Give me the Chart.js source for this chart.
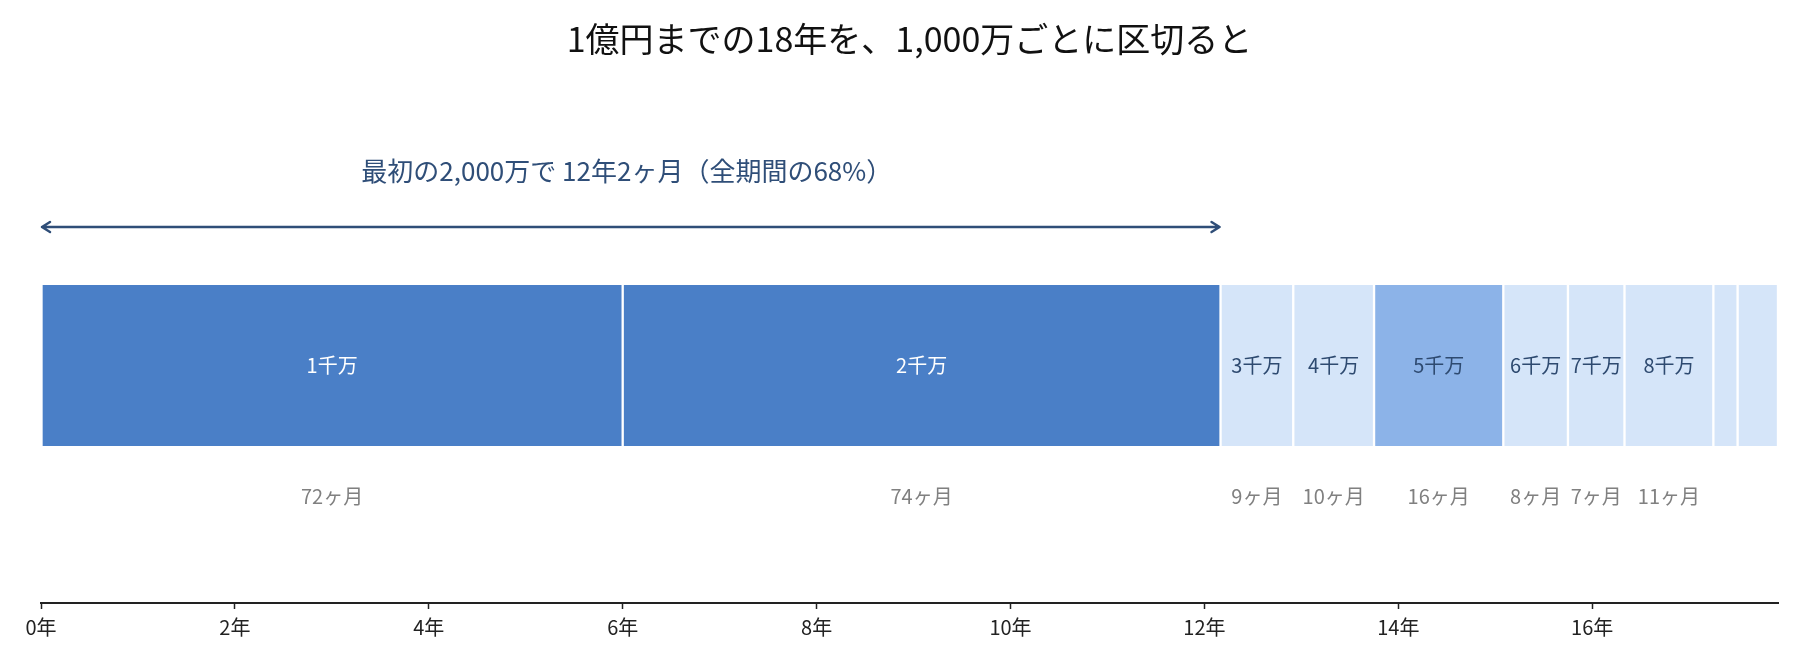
<!DOCTYPE html>
<html lang="ja">
<head>
<meta charset="utf-8">
<title>1億円までの18年</title>
<script src="https://cdn.jsdelivr.net/npm/chart.js@4.4.1/dist/chart.umd.min.js"></script>
<style>
    html, body { margin: 0; padding: 0; background: #fff; }
    #wrap { width: 1800px; height: 660px; }
</style>
</head>
<body>
<div id="wrap"><canvas id="timeChart"></canvas></div>
<script>
// データ
const segmentNames = ['1千万', '2千万', '3千万', '4千万', '5千万', '6千万', '7千万', '8千万', '9千万', '1億'];
const segmentMonths = [72, 74, 9, 10, 16, 8, 7, 11, 3, 5];
const yearTicks = [0, 2, 4, 6, 8, 10, 12, 14, 16];
const firstGroup = 2; // 最初の2,000万

const DARK = '#4a7fc7';
const MID = '#8cb3e8';
const LIGHT = '#d5e5f9';
const NAVY = '#2e4a70';
const FONT = '"Noto Sans CJK JP", "Noto Sans", sans-serif';

const totalMonths = segmentMonths.reduce((a, b) => a + b, 0);

function segmentColor(i) {
    if (i < 2) return DARK;
    if (i === 4) return MID;
    return LIGHT;
}

const datasets = segmentMonths.map((m, i) => ({
    label: segmentNames[i],
    data: [m],
    backgroundColor: segmentColor(i),
    borderColor: '#ffffff',
    borderWidth: { left: 1.5, right: 1.5, top: 0, bottom: 0 },
    borderSkipped: false,
    barThickness: 161
}));

// ラベルと矢印を描くプラグイン
const overlayPlugin = {
    id: 'overlay',
    afterDatasetsDraw(chart) {
        const ctx = chart.ctx;
        const x = chart.scales.x;
        ctx.save();
        ctx.textAlign = 'center';
        ctx.textBaseline = 'middle';

        // 各区間のラベル
        segmentMonths.forEach((m, i) => {
            if (m < 7) return;
            const bar = chart.getDatasetMeta(i).data[0];
            const cx = (bar.x + bar.base) / 2;
            ctx.font = '20px ' + FONT;
            ctx.fillStyle = i < 2 ? '#ffffff' : NAVY;
            ctx.fillText(segmentNames[i], cx, bar.y);
            ctx.fillStyle = '#808080';
            ctx.fillText(m + 'ヶ月', cx, bar.y + 131);
        });

        // 最初の2,000万の矢印
        const firstMonths = segmentMonths.slice(0, firstGroup).reduce((a, b) => a + b, 0);
        const x0 = x.getPixelForValue(0);
        const x1 = x.getPixelForValue(firstMonths);
        const ay = 227;
        ctx.strokeStyle = '#2f4e78';
        ctx.lineWidth = 2.5;
        ctx.lineCap = 'round';
        ctx.lineJoin = 'round';
        ctx.beginPath();
        ctx.moveTo(x0 + 1, ay);
        ctx.lineTo(x1 - 1, ay);
        ctx.moveTo(x0 + 9, ay - 5);
        ctx.lineTo(x0 + 1, ay);
        ctx.lineTo(x0 + 9, ay + 5);
        ctx.moveTo(x1 - 9, ay - 5);
        ctx.lineTo(x1 - 1, ay);
        ctx.lineTo(x1 - 9, ay + 5);
        ctx.stroke();

        const yrs = Math.floor(firstMonths / 12);
        const mos = firstMonths % 12;
        const pct = Math.round(firstMonths / totalMonths * 100);
        ctx.font = '26px ' + FONT;
        ctx.fillStyle = '#2f4e78';
        ctx.fillText('最初の2,000万で ' + yrs + '年' + mos + 'ヶ月（全期間の' + pct + '%）', (x0 + x1) / 2 - 4, 171);
        ctx.restore();
    }
};

new Chart(document.getElementById('timeChart').getContext('2d'), {
    type: 'bar',
    data: {
        labels: [''],
        datasets: datasets
    },
    options: {
        indexAxis: 'y',
        responsive: true,
        maintainAspectRatio: false,
        animation: false,
        layout: {
            padding: { left: 41, right: 22, top: 0, bottom: 15 }
        },
        scales: {
            x: {
                stacked: true,
                min: 0,
                max: totalMonths,
                afterBuildTicks(scale) {
                    scale.ticks = yearTicks.map(y => ({ value: y * 12 }));
                },
                grid: {
                    drawOnChartArea: false,
                    drawTicks: true,
                    tickLength: 6,
                    tickWidth: 1.5,
                    tickColor: '#222'
                },
                border: { display: true, color: '#222', width: 2 },
                ticks: {
                    padding: 6,
                    color: '#222',
                    font: { family: FONT, size: 20 },
                    maxRotation: 0,
                    autoSkip: false,
                    callback: (v) => (v / 12) + '年'
                }
            },
            y: {
                stacked: true,
                display: false
            }
        },
        plugins: {
            legend: { display: false },
            tooltip: { enabled: false },
            title: {
                display: true,
                text: '1億円までの18年を、1,000万ごとに区切ると',
                color: '#111',
                font: { family: FONT, size: 34, weight: 'normal' },
                padding: { top: 19, bottom: 68 }
            }
        }
    },
    plugins: [overlayPlugin]
});
</script>
</body>
</html>
